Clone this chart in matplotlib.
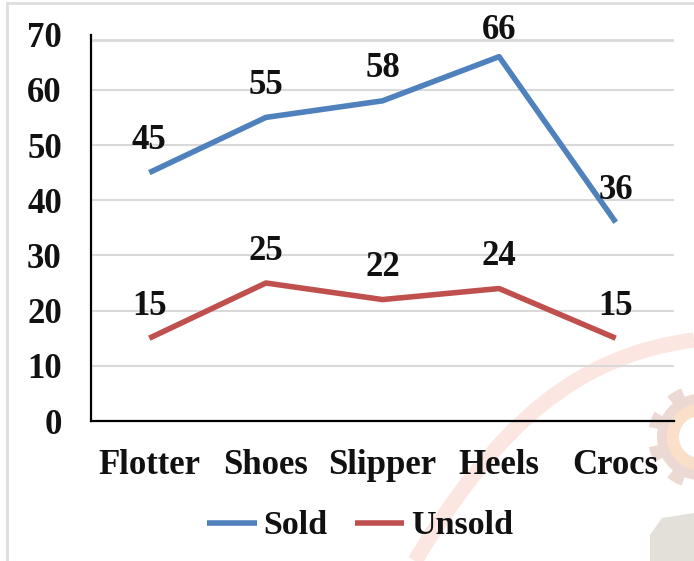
import matplotlib
matplotlib.use("Agg")
import matplotlib.pyplot as plt
from matplotlib.patches import Circle, PathPatch, Polygon, Wedge
from matplotlib.path import Path

categories = ["Flotter", "Shoes", "Slipper", "Heels", "Crocs"]
sold = [45, 55, 58, 66, 36]
unsold = [15, 25, 22, 24, 15]
yticks = [0, 10, 20, 30, 40, 50, 60, 70]

W, H = 694, 561
plt.rcParams["font.family"] = ["Liberation Serif", "DejaVu Serif"]
plt.rcParams["font.weight"] = "bold"

fig = plt.figure(figsize=(W / 100, H / 100), dpi=100)

# fondo: marco gris y marca de agua, en coordenadas de pixel
bg = fig.add_axes([0, 0, 1, 1], zorder=0)
bg.set_xlim(0, W)
bg.set_ylim(H, 0)
bg.axis("off")
bg.plot([7, 7], [H, 3], color="#dedede", lw=2)
bg.plot([7, W], [3, 3], color="#dedede", lw=2)
arc = Path([(415, 561), (500, 420), (580, 355), (694, 340)],
           [Path.MOVETO, Path.CURVE4, Path.CURVE4, Path.CURVE4])
bg.add_patch(PathPatch(arc, fc="none", ec="#fce6e2", lw=11))
for a in range(0, 360, 40):
    bg.add_patch(Wedge((700, 437), 52, a - 9, a + 9, fc="#ecd9d3", ec="none"))
bg.add_patch(Circle((700, 437), 43, fc="#ecd9d3", ec="none"))
bg.add_patch(Circle((700, 437), 27, fc="none", ec="#fae0c8", lw=9))
bg.add_patch(Circle((700, 437), 21, fc="white", ec="none"))
bg.add_patch(Polygon([(650, 561), (650, 535), (662, 518), (694, 513), (694, 561)],
                     fc="#e2e0d8", ec="none"))

left, right, top, bottom = 91, 674, 34.6, 421
ax = fig.add_axes([left / W, 1 - bottom / H, (right - left) / W, (bottom - top) / H], zorder=1)
ax.patch.set_alpha(0)

x = range(len(categories))
l1, = ax.plot(x, sold, color="#4f81bd", lw=4, solid_capstyle="butt", label="Sold", zorder=3)
l2, = ax.plot(x, unsold, color="#c0504d", lw=4, solid_capstyle="butt", label="Unsold", zorder=3)

for i, v in enumerate(sold):
    off = 19 if v == 66 else 23
    ax.annotate(str(v), (i, v), xytext=(0, off), textcoords="offset points", ha="center",
                va="center", fontsize=25, fontweight="bold", color="#111111",
                annotation_clip=False, zorder=4)
for i, v in enumerate(unsold):
    ax.annotate(str(v), (i, v), xytext=(0, 23), textcoords="offset points", ha="center",
                va="center", fontsize=25, fontweight="bold", color="#111111", zorder=4)

ax.set_xlim(-0.5, 4.5)
ax.set_ylim(0, 70)
ax.set_xticks(list(x), categories)
ax.set_yticks(yticks)
ax.tick_params(axis="both", length=0, labelsize=25, colors="#111111")
ax.tick_params(axis="x", pad=20)
ax.tick_params(axis="y", pad=21)
for lab in ax.get_xticklabels() + ax.get_yticklabels():
    lab.set_fontweight("bold")

# la linea de 70 esta algo corrida en el original
ax.yaxis.grid(True, color="#d9d9d9", lw=1.5, zorder=0)
ax.get_ygridlines()[-1].set_visible(False)
ax.axhline(69, color="#d9d9d9", lw=2, zorder=0)
ax.set_axisbelow(True)

for s in ["top", "right"]:
    ax.spines[s].set_visible(False)
for s in ["left", "bottom"]:
    ax.spines[s].set_color("black")
    ax.spines[s].set_linewidth(1.6)

fig.legend(handles=[l1, l2], loc="center", bbox_to_anchor=(360 / W, 1 - 526 / H), ncol=2,
           frameon=False, fontsize=24.5, handlelength=1.45, handletextpad=0.2,
           columnspacing=0.8, labelcolor="#111111")

fig.savefig("out.png", dpi=100)
